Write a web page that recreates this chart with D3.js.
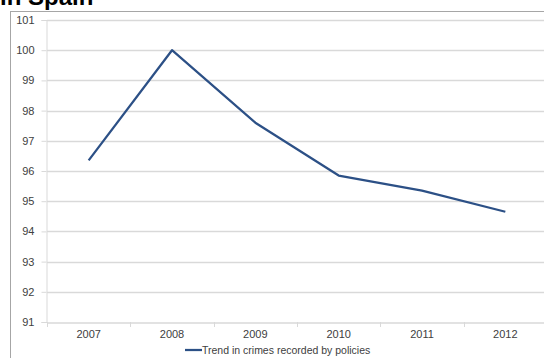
<!DOCTYPE html>
<html>
<head>
<meta charset="utf-8">
<script src="https://cdn.jsdelivr.net/npm/d3@7"></script>
<style>
  html, body { margin: 0; padding: 0; background: #fff; }
  svg { display: block; }
</style>
</head>
<body>
<svg id="chart" width="544" height="358"></svg>
<script>
const years = ["2007", "2008", "2009", "2010", "2011", "2012"];
const crimeTrend = [96.35, 100.0, 97.6, 95.85, 95.35, 94.65];
const yTicks = [91, 92, 93, 94, 95, 96, 97, 98, 99, 100, 101];
const seriesName = "Trend in crimes recorded by policies";
const titleText = "in Spain";

(function () {
const svg = d3.select("#chart");
const font = "Liberation Sans, Arial, sans-serif";

const plotLeft = 47, plotRight = 547, plotTop = 20, plotBottom = 322;

const x = d3.scaleBand().domain(years).range([plotLeft, plotRight]).paddingInner(0).paddingOuter(0);
const y = d3.scaleLinear().domain([91, 101]).range([plotBottom, plotTop]);

// chart area border
svg.append("rect")
  .attr("x", 10.5).attr("y", 11.5)
  .attr("width", 600).attr("height", 400)
  .attr("fill", "#fff").attr("stroke", "#a6a6a6").attr("stroke-width", 1);

// title (partially cut off, as in the reference)
svg.append("text")
  .attr("x", 0).attr("y", 5)
  .attr("font-family", font).attr("font-weight", "bold")
  .attr("font-size", 24).attr("fill", "#000")
  .text(titleText);

// gridlines
svg.append("g")
  .selectAll("line")
  .data(yTicks.filter(d => d !== 91))
  .join("line")
  .attr("x1", plotLeft).attr("x2", 544)
  .attr("y1", d => Math.round(y(d)) + 0.5).attr("y2", d => Math.round(y(d)) + 0.5)
  .attr("stroke", "#d9d9d9").attr("stroke-width", 1.3);

// y axis
const yAxis = svg.append("g")
  .attr("transform", `translate(${plotLeft - 0.5},0)`)
  .call(d3.axisLeft(y).tickValues(yTicks).tickSize(5).tickPadding(7).tickFormat(d3.format("d")));
yAxis.select(".domain").attr("stroke", "#d9d9d9");
yAxis.selectAll(".tick line").attr("stroke", "#d9d9d9");
yAxis.selectAll("text").attr("font-family", font).attr("font-size", 11).attr("fill", "#404040");

// x axis
const xAxis = svg.append("g")
  .attr("transform", `translate(0,${plotBottom + 0.5})`)
  .call(d3.axisBottom(x).tickSize(0).tickPadding(8));
xAxis.select(".domain").attr("stroke", "#d9d9d9").attr("stroke-width", 1.3);
xAxis.selectAll("text").attr("font-family", font).attr("font-size", 11).attr("fill", "#404040");
// band boundary tick marks
svg.append("g")
  .selectAll("line")
  .data(years)
  .join("line")
  .attr("x1", d => Math.round(x(d)) + 0.5).attr("x2", d => Math.round(x(d)) + 0.5)
  .attr("y1", plotBottom).attr("y2", plotBottom + 5)
  .attr("stroke", "#d9d9d9");

// line
const line = d3.line()
  .x((d, i) => x(years[i]) + x.bandwidth() / 2)
  .y(d => y(d));
svg.append("path")
  .datum(crimeTrend)
  .attr("d", line)
  .attr("fill", "none")
  .attr("stroke", "#2c5086")
  .attr("stroke-width", 2.25)
  .attr("stroke-linejoin", "round");

// legend
const lg = svg.append("g").attr("transform", "translate(185,350)");
lg.append("line").attr("x1", 0).attr("x2", 17).attr("y1", 0).attr("y2", 0)
  .attr("stroke", "#2c5086").attr("stroke-width", 2.25);
lg.append("text").attr("x", 17).attr("y", 4)
  .attr("font-family", font).attr("font-size", 10.5).attr("fill", "#404040")
  .text(seriesName);
})();
</script>
</body>
</html>
